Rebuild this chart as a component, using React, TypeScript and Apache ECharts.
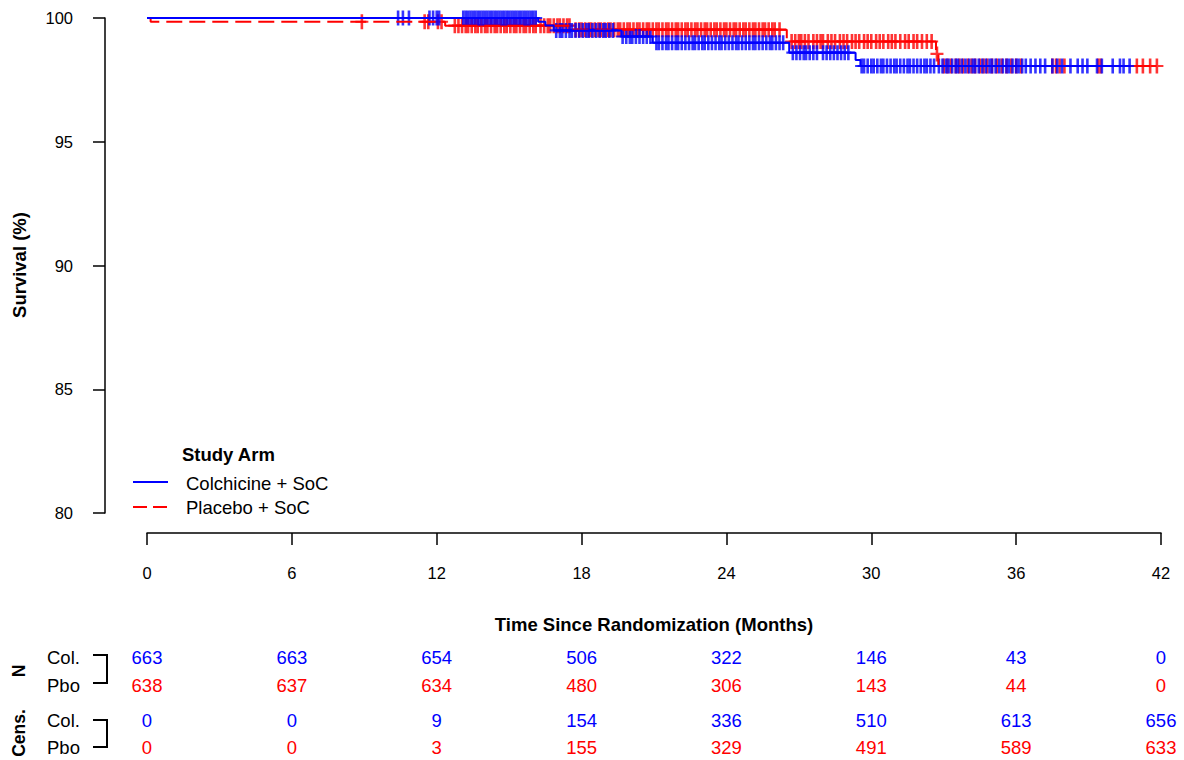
import React, { useEffect, useRef } from "react";
import * as echarts from "echarts";

// ---- Data ----
const months = [0, 6, 12, 18, 24, 30, 36, 42];
const nCol = [663, 663, 654, 506, 322, 146, 43, 0];
const nPbo = [638, 637, 634, 480, 306, 143, 44, 0];
const censCol = [0, 0, 9, 154, 336, 510, 613, 656];
const censPbo = [0, 0, 3, 155, 329, 491, 589, 633];

// Kaplan-Meier steps (time in months, survival %)
const colTimes = [0, 16.2, 16.5, 16.85, 19.65, 20.95, 26.6, 29.35, 29.55, 40.75];
const colSurv = [100, 99.85, 99.7, 99.5, 99.25, 99.0, 98.6, 98.3, 98.06, 98.06];
const pboTimes = [0, 0.15, 12.35, 17.6, 26.5, 32.68, 32.78, 41.83];
const pboSurv = [100, 99.85, 99.69, 99.53, 99.05, 98.55, 98.06, 98.06];

// Censoring times (months)
const colCensor = [
  10.4, 10.6, 10.85, 11.7, 11.85, 12.0, 12.1,
  13.1, 13.2, 13.3, 13.4, 13.5, 13.6, 13.7, 13.8, 13.9, 14.0, 14.1, 14.2, 14.3, 14.4, 14.5, 14.6, 14.7, 14.8, 14.9,
  15.0, 15.1, 15.2, 15.3, 15.4, 15.5, 15.6, 15.7, 15.8, 15.9, 16.0, 16.1,
  16.95, 17.1, 17.2, 17.35, 17.5, 17.6, 17.75, 17.9, 18.05, 18.2, 18.3, 18.45, 18.6, 18.75, 18.9, 19.0, 19.15, 19.3,
  19.7, 19.85, 20.0, 20.1, 20.25, 20.4, 20.55, 20.7, 20.85,
  21.1, 21.2, 21.35, 21.5, 21.6, 21.75, 21.9, 22.0, 22.15, 22.3, 22.45, 22.6, 22.7, 22.85, 23.0, 23.1, 23.25, 23.4,
  23.55, 23.7, 23.8, 23.95, 24.1, 24.25, 24.4, 24.5, 24.65, 24.8, 24.95, 25.1, 25.2, 25.35, 25.5, 25.65, 25.8, 25.9,
  26.05, 26.2, 26.35,
  26.75, 26.9, 27.05, 27.2, 27.3, 27.45, 27.6, 27.75, 28.0, 28.15, 28.3, 28.45, 28.6, 28.75, 28.9, 29.05,
  29.6, 29.7, 29.85, 30.0, 30.1, 30.25, 30.4, 30.5, 30.65, 30.8, 30.95, 31.05, 31.2, 31.35, 31.5, 31.6, 31.75, 31.9,
  32.05, 32.2, 32.3, 32.45, 32.6, 32.8, 32.95, 33.1, 33.2, 33.35, 33.5, 33.6, 33.75, 33.9, 34.05, 34.2, 34.3, 34.45,
  34.6, 34.75, 34.9, 35.0, 35.15, 35.3, 35.45, 35.6, 35.7, 35.85, 36.0, 36.1, 36.25, 36.4,
  36.6, 36.8, 37.0, 37.2, 37.5, 37.7, 37.9, 38.25, 38.55, 38.75, 38.95, 39.35, 39.55, 40.0, 40.3, 40.45, 40.7,
];
const pboCensor = [
  8.9, 11.5, 11.65, 12.05, 12.2, 12.75,
  12.9, 13.05, 13.2, 13.3, 13.45, 13.6, 13.7, 13.85, 14.0, 14.1, 14.25, 14.4, 14.5, 14.65, 14.8, 14.9, 15.05, 15.2,
  15.3, 15.45, 15.6, 15.7, 15.85, 16.0, 16.1, 16.3, 16.45, 16.6, 16.7, 16.85, 17.0, 17.1, 17.25, 17.4, 17.5,
  17.75, 17.9, 18.0, 18.15, 18.3, 18.4, 18.55, 18.7, 18.8, 18.95, 19.1, 19.2, 19.35, 19.5, 19.6, 19.75, 19.9, 20.0,
  20.15, 20.3, 20.4, 20.55, 20.7, 20.8, 20.95, 21.1, 21.2, 21.35, 21.5, 21.6, 21.75, 21.9, 22.0, 22.15, 22.3, 22.4,
  22.55, 22.7, 22.8, 22.95, 23.1, 23.2, 23.35, 23.5, 23.6, 23.75, 23.9, 24.0, 24.15, 24.3, 24.4, 24.55, 24.7, 24.8,
  24.95, 25.1, 25.2, 25.35, 25.5, 25.6, 25.75, 25.9, 26.0, 26.2,
  26.7, 26.85, 27.0, 27.1, 27.25, 27.4, 27.6, 27.75, 27.9, 28.0, 28.2, 28.35, 28.5, 28.7, 28.85, 29.0, 29.2, 29.35,
  29.5, 29.7, 29.85, 30.0, 30.2, 30.35, 30.5, 30.7, 30.85, 31.0, 31.2, 31.4, 31.55, 31.75, 31.9, 32.1, 32.3, 32.5,
  32.72,
  33.0, 33.15, 33.3, 33.5, 33.65, 33.8, 34.0, 34.15, 34.3, 34.5, 34.65, 34.8, 35.0, 35.2, 35.4, 35.6, 35.8, 36.0, 36.2,
  37.5, 37.65, 37.8, 38.0, 39.4, 39.5, 41.0, 41.25, 41.55, 41.83,
];

const BLUE = "#0000FF";
const RED = "#FF0000";
const FF = '"Liberation Sans", Arial, Helvetica, sans-serif';
const PLUS = "path://M40,0H60V43H100V57H60V100H40V57H0V43H40Z";

function survAt(times: number[], surv: number[], t: number) {
  let s = surv[0];
  for (let i = 0; i < times.length; i++) if (times[i] <= t) s = surv[i];
  return s;
}

export default function App() {
  const ref = useRef<HTMLDivElement>(null);
  useEffect(() => {
    if (!ref.current) return;
    const chart = echarts.init(ref.current, null, { renderer: "svg" });
    const colLine = colTimes.map((t, i) => [t, colSurv[i]]);
    const pboLine = pboTimes.map((t, i) => [t, pboSurv[i]]);
    const colCens = colCensor.map((t) => [t, survAt(colTimes, colSurv, t)]);
    const pboCens = pboCensor.map((t) => [t, survAt(pboTimes, pboSurv, t)]);

    chart.setOption({
      animation: false,
      grid: { left: 147, right: 23, top: 18, bottom: 247, containLabel: false },
      xAxis: {
        type: "value",
        min: 0,
        max: 42,
        interval: 6,
        offset: 20,
        axisLine: { show: true, onZero: false, lineStyle: { color: "#000", width: 1.5 } },
        axisTick: { show: true, length: 12, lineStyle: { color: "#000", width: 1.5 } },
        axisLabel: { margin: 31, fontSize: 16.5, fontFamily: FF, color: "#000" },
        splitLine: { show: false },
      },
      yAxis: {
        type: "value",
        min: 80,
        max: 100,
        interval: 5,
        offset: 42,
        axisLine: { show: true, onZero: false, lineStyle: { color: "#000", width: 1.5 } },
        axisTick: { show: true, length: 12, lineStyle: { color: "#000", width: 1.5 } },
        axisLabel: { margin: 32, fontSize: 16.5, fontFamily: FF, color: "#000" },
        splitLine: { show: false },
      },
      series: [
        {
          name: "Placebo + SoC",
          type: "line",
          step: "end",
          data: pboLine,
          symbol: "none",
          silent: true,
          lineStyle: { color: RED, width: 2, type: [16, 7] },
        },
        {
          type: "scatter",
          data: pboCens,
          symbol: PLUS,
          symbolSize: [13, 15],
          silent: true,
          itemStyle: { color: RED },
        },
        {
          name: "Colchicine + SoC",
          type: "line",
          step: "end",
          data: colLine,
          symbol: "none",
          silent: true,
          lineStyle: { color: BLUE, width: 2 },
        },
        {
          type: "scatter",
          data: colCens,
          symbol: PLUS,
          symbolSize: [13, 15],
          silent: true,
          itemStyle: { color: BLUE },
        },
      ],
    });

    const xs = months.map((m) => chart.convertToPixel({ xAxisIndex: 0 }, m) as number);
    const g: any[] = [];
    const txt = (text: string, x: number, y: number, opts: any = {}) =>
      g.push({
        type: "text",
        x,
        y,
        rotation: opts.rotation || 0,
        silent: true,
        style: {
          text,
          fontSize: opts.fontSize || 18.5,
          fontFamily: FF,
          fontWeight: opts.bold ? "bold" : "normal",
          fill: opts.color || "#000",
          textAlign: opts.align || "center",
          textVerticalAlign: "middle",
        },
      });
    const ln = (x1: number, y1: number, x2: number, y2: number, color: string, dash?: number[]) =>
      g.push({
        type: "line",
        silent: true,
        shape: { x1, y1, x2, y2 },
        style: { stroke: color, lineWidth: 2, lineDash: dash },
      });

    // axis titles
    txt("Survival (%)", 19, 265, { bold: true, rotation: Math.PI / 2 });
    txt("Time Since Randomization (Months)", (xs[0] + xs[xs.length - 1]) / 2, 624, { bold: true });

    // legend
    txt("Study Arm", 182, 454, { bold: true, align: "left" });
    ln(133, 482, 168, 482, BLUE);
    txt("Colchicine + SoC", 186, 483, { align: "left" });
    ln(133, 507, 168, 507, RED, [14, 6]);
    txt("Placebo + SoC", 186, 507, { align: "left" });

    // risk table
    const rows = [657, 685, 720, 747];
    txt("N", 19, 671, { bold: true, rotation: Math.PI / 2, fontSize: 17.5 });
    txt("Cens.", 19, 733, { bold: true, rotation: Math.PI / 2, fontSize: 17.5 });
    txt("Col.", 47, rows[0], { align: "left" });
    txt("Pbo", 47, rows[1], { align: "left" });
    txt("Col.", 47, rows[2], { align: "left" });
    txt("Pbo", 47, rows[3], { align: "left" });
    ln(93, 655, 107, 655, "#000");
    ln(107, 654, 107, 684, "#000");
    ln(93, 683, 107, 683, "#000");
    ln(93, 720, 107, 720, "#000");
    ln(107, 719, 107, 748, "#000");
    ln(93, 747, 107, 747, "#000");
    months.forEach((m, i) => {
      txt(String(nCol[i]), xs[i], rows[0], { color: BLUE });
      txt(String(nPbo[i]), xs[i], rows[1], { color: RED });
      txt(String(censCol[i]), xs[i], rows[2], { color: BLUE });
      txt(String(censPbo[i]), xs[i], rows[3], { color: RED });
    });

    chart.setOption({ graphic: g });
    return () => chart.dispose();
  }, []);
  return (
    <div
      ref={ref}
      style={{ position: "absolute", left: 0, top: 0, width: 1184, height: 760, background: "#fff" }}
    />
  );
}
